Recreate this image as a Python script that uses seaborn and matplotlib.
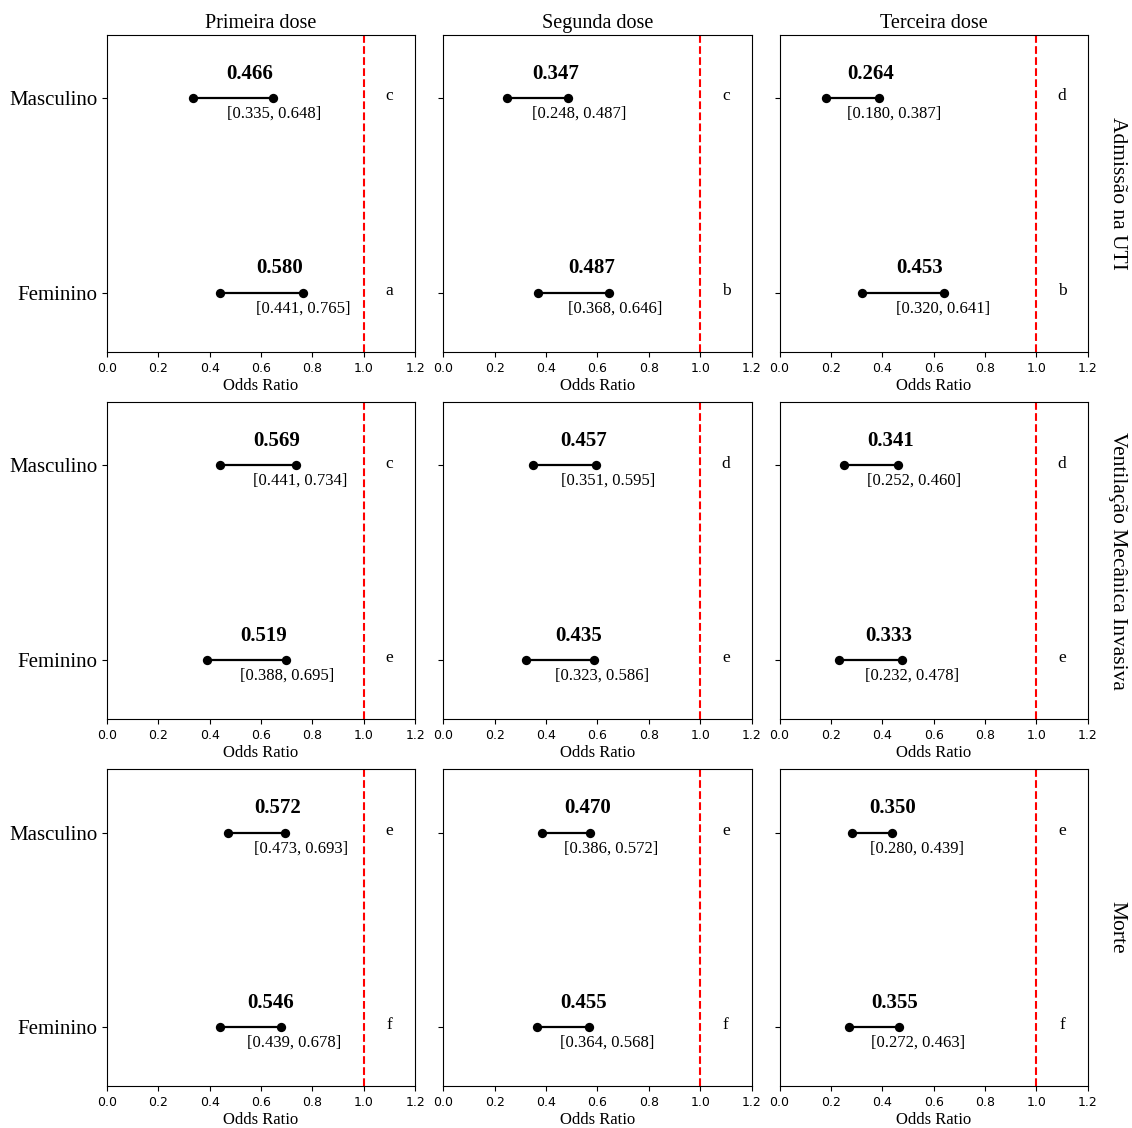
import numpy as np
import pandas as pd
import matplotlib
matplotlib.use("Agg")
import matplotlib.pyplot as plt
import seaborn as sns

# data
outcomes = ["Admissão na UTI", "Ventilação Mecânica Invasiva", "Morte"]
doses = ["Primeira dose", "Segunda dose", "Terceira dose"]
groups = ["Masculino", "Feminino"]

# odds ratio per outcome (rows) x dose (cols) x group
or_vals = [
    [[0.466, 0.580], [0.347, 0.487], [0.264, 0.453]],
    [[0.569, 0.519], [0.457, 0.435], [0.341, 0.333]],
    [[0.572, 0.546], [0.470, 0.455], [0.350, 0.355]],
]
ci_low = [
    [[0.335, 0.441], [0.248, 0.368], [0.180, 0.320]],
    [[0.441, 0.388], [0.351, 0.323], [0.252, 0.232]],
    [[0.473, 0.439], [0.386, 0.364], [0.280, 0.272]],
]
ci_high = [
    [[0.648, 0.765], [0.487, 0.646], [0.387, 0.641]],
    [[0.734, 0.695], [0.595, 0.586], [0.460, 0.478]],
    [[0.693, 0.678], [0.572, 0.568], [0.439, 0.463]],
]
letters = [
    [["c", "a"], ["c", "b"], ["d", "b"]],
    [["c", "e"], ["d", "e"], ["d", "e"]],
    [["e", "f"], ["e", "f"], ["e", "f"]],
]

serif = "Liberation Serif"

fig, axes = plt.subplots(3, 3, figsize=(11.32, 11.28), dpi=100)
plt.subplots_adjust(left=0.0945, right=0.961, top=0.969, bottom=0.037,
                    wspace=0.091, hspace=0.158)

for i, outcome in enumerate(outcomes):
    for j, dose in enumerate(doses):
        ax = axes[i, j]
        df = pd.DataFrame({
            "grupo": groups * 2,
            "pos": [0, 1] * 2,
            "valor": ci_low[i][j] + ci_high[i][j],
        })
        ax.hlines(df["pos"][:2], ci_low[i][j], ci_high[i][j], color="black", lw=1.6, zorder=2)
        sns.scatterplot(data=df, x="valor", y="pos", color="black", s=45,
                        edgecolor="black", linewidth=0, ax=ax, zorder=3, legend=False)
        for k, g in enumerate(groups):
            orv = or_vals[i][j][k]
            ax.text(orv, k - 0.125, f"{orv:.3f}", ha="left", va="center",
                    fontsize=15, fontweight="bold", family=serif)
            ax.text(orv, k + 0.08, f"[{ci_low[i][j][k]:.3f}, {ci_high[i][j][k]:.3f}]",
                    ha="left", va="center", fontsize=12, family=serif)
            ax.text(1.1, k - 0.01, letters[i][j][k], ha="center", va="center",
                    fontsize=12.5, family=serif)
        ax.axvline(1.0, color="red", ls="--", lw=1.5, zorder=1)
        ax.set_xlim(0, 1.2)
        ax.set_ylim(1.305, -0.326)
        ax.set_xticks(np.arange(0, 1.21, 0.2))
        ax.tick_params(axis="x", labelsize=9)
        ax.set_yticks([0, 1])
        if j == 0:
            ax.set_yticklabels(groups, fontsize=15, family=serif)
        else:
            ax.set_yticklabels([])
        ax.set_ylabel("")
        ax.set_xlabel("Odds Ratio", fontsize=12, family=serif, labelpad=2)
        if i == 0:
            ax.set_title(dose, fontsize=14.5, family=serif, pad=5)
        if j == 2:
            ax.text(1.095, 0.5, outcome, transform=ax.transAxes, rotation=270,
                    ha="center", va="center", fontsize=15.5, family=serif)

plt.savefig("out.png", dpi=100)
